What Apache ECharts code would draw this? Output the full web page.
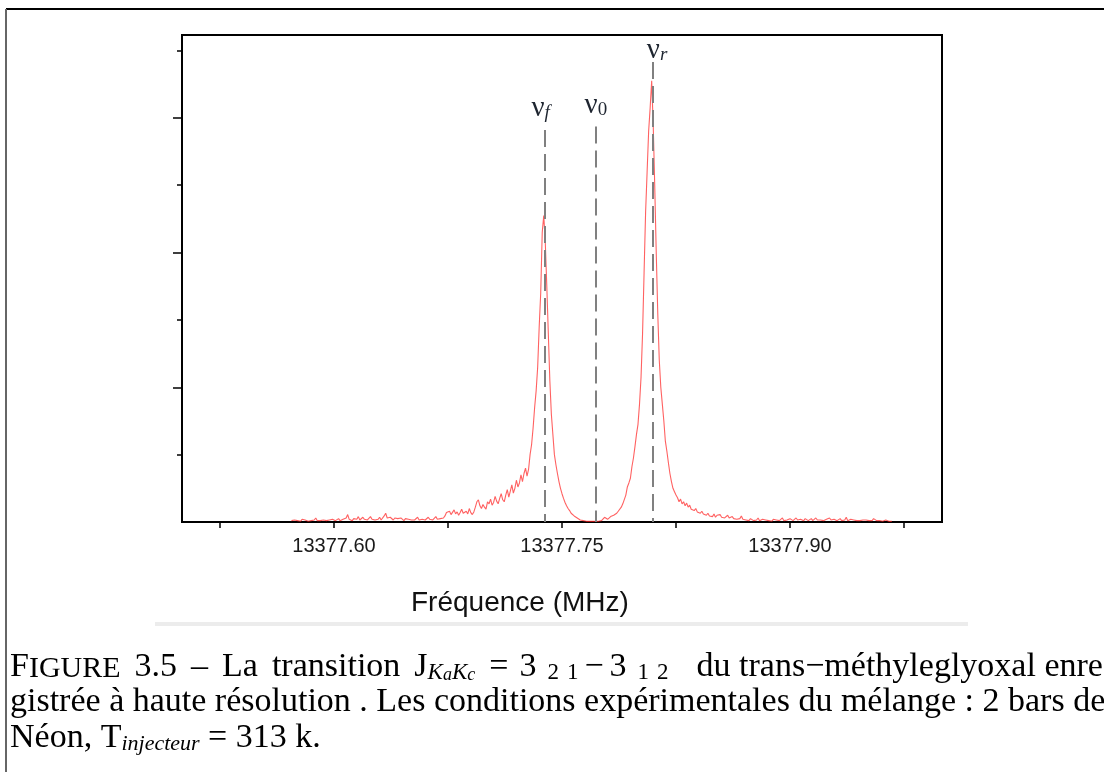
<!DOCTYPE html>
<html>
<head>
<meta charset="utf-8">
<script src="https://cdn.jsdelivr.net/npm/echarts@6/dist/echarts.min.js"></script>
<style>
  html, body { margin: 0; padding: 0; background: #fff; }
  #spectre { width: 1104px; height: 772px; }
</style>
</head>
<body>
<div id="spectre"></div>
<script>
// spectre : intensite (unites arbitraires) echantillonnee tous les 1 kHz a partir de freqStart
var freqStart = 13377.572;
var freqStep = 0.001;
var intensity = [
  0.02,0.04,0.03,0.05,0.02,0.03,0.01,0.04,0.02,0.03,0.02,0.01,0.03,0.02,0.04,0.03,0.06,0.02,0.03,0.02,
  0.04,0.03,0.05,0.02,0.01,0.03,0.02,0.04,0.03,0.02,0.03,0.05,0.02,0.03,0.04,0.02,0.06,0.11,0.04,0.03,
  0.02,0.05,0.03,0.04,0.08,0.03,0.05,0.07,0.04,0.06,0.03,0.05,0.08,0.04,0.06,0.03,0.05,0.04,0.07,0.03,
  0.05,0.09,0.13,0.06,0.04,0.07,0.05,0.03,0.06,0.04,0.05,0.03,0.06,0.04,0.02,0.05,0.03,0.04,0.06,0.03,
  0.05,0.03,0.04,0.07,0.03,0.05,0.04,0.06,0.03,0.05,0.07,0.04,0.06,0.03,0.05,0.08,0.04,0.06,0.05,0.04,
  0.06,0.09,0.14,0.12,0.16,0.11,0.13,0.18,0.12,0.15,0.10,0.14,0.19,0.13,0.11,0.16,0.12,0.20,0.14,0.11,
  0.15,0.22,0.30,0.33,0.24,0.20,0.26,0.22,0.19,0.30,0.27,0.34,0.25,0.29,0.38,0.31,0.27,0.35,0.42,0.33,
  0.30,0.40,0.48,0.37,0.46,0.55,0.43,0.50,0.62,0.52,0.58,0.70,0.60,0.72,0.80,0.68,0.78,1.00,1.15,1.40,
  1.70,1.95,2.30,2.90,3.40,4.30,4.55,4.15,3.50,2.80,2.10,1.60,1.30,1.00,0.85,0.72,0.60,0.50,0.42,0.35,
  0.29,0.24,0.20,0.17,0.13,0.11,0.09,0.07,0.06,0.04,0.03,0.03,0.02,0.02,0.01,0.02,0.01,0.00,0.01,0.00,
  0.01,0.02,0.01,0.03,0.02,0.04,0.07,0.05,0.04,0.06,0.08,0.07,0.10,0.09,0.13,0.16,0.14,0.22,0.27,0.25,
  0.40,0.52,0.58,0.65,0.82,0.95,1.12,1.30,1.45,1.75,2.15,2.80,3.70,4.60,5.20,5.80,6.15,6.55,5.90,5.00,
  4.00,3.10,2.40,2.00,1.75,1.50,1.20,1.05,0.88,0.72,0.60,0.50,0.45,0.40,0.36,0.30,0.34,0.27,0.30,0.24,
  0.28,0.22,0.25,0.19,0.21,0.17,0.20,0.15,0.17,0.13,0.16,0.12,0.14,0.10,0.13,0.09,0.11,0.08,0.12,0.07,
  0.10,0.08,0.11,0.07,0.09,0.06,0.08,0.10,0.06,0.05,0.08,0.05,0.07,0.04,0.06,0.05,0.09,0.04,0.05,0.03,
  0.04,0.02,0.05,0.03,0.02,0.04,0.03,0.06,0.02,0.03,0.04,0.02,0.03,0.05,0.02,0.03,0.01,0.04,0.02,0.03,
  0.05,0.02,0.03,0.06,0.02,0.04,0.03,0.02,0.05,0.03,0.02,0.04,0.06,0.03,0.02,0.04,0.03,0.02,0.05,0.03,
  0.02,0.03,0.05,0.02,0.04,0.06,0.03,0.02,0.03,0.05,0.02,0.03,0.04,0.02,0.06,0.03,0.02,0.04,0.03,0.02,
  0.03,0.05,0.02,0.04,0.03,0.07,0.02,0.03,0.04,0.02,0.03,0.05,0.02,0.03,0.02,0.04,0.03,0.02,0.03,0.04,
  0.02,0.03,0.02,0.05,0.03,0.02,0.04,0.02,0.03,0.01,0.02,0.03,0.02,0.01,0.02,0.01
];

// axe des frequences (MHz)
var xTicks = [13377.525, 13377.60, 13377.675, 13377.75, 13377.825, 13377.90, 13377.975];
var xTickLabels = [13377.60, 13377.75, 13377.90];
var yMajorTicks = [2, 4, 6];
var yMinorTicks = [1, 3, 5, 7];

// raies marquees : nu_f, nu_0, nu_r
var lineNames = ['f', '0', 'r'];
var lineFreqs = [13377.7389, 13377.7723, 13377.8096];
var lineTops = [5.82, 5.87, 6.83];

var spectrum = intensity.map(function (v, i) {
  return [freqStart + i * freqStep, v];
});

// petits decalages des etiquettes par rapport au trait
var labelFormats = ['{v|ν}{s|f}{pad|}', '{v|ν}{s0|0}', '{pad|}{v|ν}{s|r}'];
var labelGaps = [7, 7, -3];

var markData = lineFreqs.map(function (f, i) {
  return [
    { coord: [f, lineTops[i]], label: { formatter: labelFormats[i], distance: labelGaps[i] } },
    { coord: [f, 0] }
  ];
});

var dom = document.getElementById('spectre');
var myChart = echarts.init(dom);

var serif = 'Liberation Serif';
// texte justifie : les espaces de la premiere ligne sont elargis
var cap1Rich = {
  n:   { fontSize: 34, fontFamily: serif, lineHeight: 38, verticalAlign: 'bottom', color: '#111' },
  sc:  { fontSize: 30, fontFamily: serif, lineHeight: 36, verticalAlign: 'bottom', color: '#111' },
  sub: { fontSize: 23, fontFamily: serif, lineHeight: 20.5, verticalAlign: 'bottom', color: '#111' },
  si:  { fontSize: 23, fontFamily: serif, fontStyle: 'italic', lineHeight: 20.5, verticalAlign: 'bottom', color: '#111' },
  ssi: { fontSize: 18, fontFamily: serif, fontStyle: 'italic', lineHeight: 10, verticalAlign: 'bottom', color: '#111' },
  w:   { width: 14, lineHeight: 10, verticalAlign: 'bottom' },
  g6:  { width: 6, lineHeight: 10, verticalAlign: 'bottom' },
  g8:  { width: 8, lineHeight: 10, verticalAlign: 'bottom' },
  g11: { width: 11, lineHeight: 10, verticalAlign: 'bottom' },
  g14: { width: 14, lineHeight: 10, verticalAlign: 'bottom' },
  g28: { width: 28, lineHeight: 10, verticalAlign: 'bottom' }
};
var capRich = {
  n:   { fontSize: 34, fontFamily: serif, lineHeight: 38, verticalAlign: 'bottom', color: '#111' },
  si:  { fontSize: 22, fontFamily: serif, fontStyle: 'italic', lineHeight: 20, verticalAlign: 'bottom', color: '#111' }
};

var caption1 = '{n|F}{sc|IGURE}{w|}{n|3.5}{w|}{n|–}{w|}{n|La}{w|}{n|transition}{w|}' +
  '{n|J}{si|K}{ssi|a}{si|K}{ssi|c}{g14|}{n|=}{g11|}{n|3}{g11|}{sub|2}{g8|}{sub|1}{g6|}' +
  '{n|−}{g6|}{n|3}{g11|}{sub|1}{g8|}{sub|2}{g28|}{n|du trans−méthyleglyoxal enre-}';

var option = {
  animation: false,
  grid: {
    left: 182, right: 162, top: 35, bottom: 250,
    show: true, borderColor: '#000', borderWidth: 2
  },
  xAxis: {
    type: 'value',
    min: 13377.50,
    max: 13378.00,
    axisLine: { lineStyle: { color: '#000', width: 2 } },
    axisTick: { customValues: xTicks, length: 6, lineStyle: { color: '#000', width: 1.5 } },
    axisLabel: {
      customValues: xTickLabels,
      formatter: function (v) { return v.toFixed(2); },
      fontFamily: 'Liberation Sans', fontSize: 20, color: '#1a1a1a', margin: 14
    },
    splitLine: { show: false }
  },
  yAxis: [
    {
      type: 'value', min: 0, max: 7.23, position: 'left',
      axisLine: { show: true, lineStyle: { color: '#000', width: 2 } },
      axisTick: { customValues: yMajorTicks, length: 9, lineStyle: { color: '#000', width: 1.5 } },
      axisLabel: { show: false },
      splitLine: { show: false }
    },
    {
      type: 'value', min: 0, max: 7.23, position: 'left',
      axisLine: { show: true, lineStyle: { color: '#000', width: 2 } },
      axisTick: { customValues: yMinorTicks, length: 5, lineStyle: { color: '#000', width: 1.5 } },
      axisLabel: { show: false },
      splitLine: { show: false }
    }
  ],
  series: [
    {
      type: 'line',
      data: spectrum,
      showSymbol: false,
      silent: true,
      lineStyle: { color: 'rgba(255,30,30,0.7)', width: 1.1 },
      markLine: {
        silent: true,
        symbol: 'none',
        lineStyle: { color: '#808080', width: 2, type: [17, 7] },
        label: {
          show: true,
          position: 'start',
          rich: {
            v:   { fontSize: 29, fontFamily: serif, color: '#1e2530', lineHeight: 28, verticalAlign: 'bottom' },
            s:   { fontSize: 19, fontFamily: serif, fontStyle: 'italic', color: '#1e2530', lineHeight: 12, verticalAlign: 'bottom' },
            s0:  { fontSize: 19, fontFamily: serif, color: '#1e2530', lineHeight: 12, verticalAlign: 'bottom' },
            pad: { width: 9, lineHeight: 10, verticalAlign: 'bottom' }
          }
        },
        data: markData
      }
    }
  ],
  graphic: [
    { type: 'line', shape: { x1: 6, y1: 9, x2: 1104, y2: 9 }, style: { stroke: '#000', lineWidth: 2 } },
    { type: 'line', shape: { x1: 6, y1: 9, x2: 6, y2: 772 }, style: { stroke: '#666', lineWidth: 2 } },
    { type: 'rect', shape: { x: 155, y: 622, width: 813, height: 4 }, style: { fill: '#ececec' } },
    {
      type: 'text', left: 411, top: 589,
      style: { text: 'Fréquence (MHz)', fontFamily: 'Liberation Sans', fontSize: 28, fill: '#111' }
    },
    {
      type: 'text', left: 10, top: 650,
      style: { text: caption1, rich: cap1Rich }
    },
    {
      type: 'text', left: 10, top: 685,
      style: {
        text: '{n|gistrée à haute résolution . Les conditions expérimentales du mélange : 2 bars de}',
        rich: capRich
      }
    },
    {
      type: 'text', left: 10, top: 721,
      style: {
        text: '{n|Néon, T}{si|injecteur}{n| = 313 k.}',
        rich: capRich
      }
    }
  ]
};

if (option && typeof option === 'object') {
  myChart.setOption(option, true);
}
</script>
</body>
</html>
